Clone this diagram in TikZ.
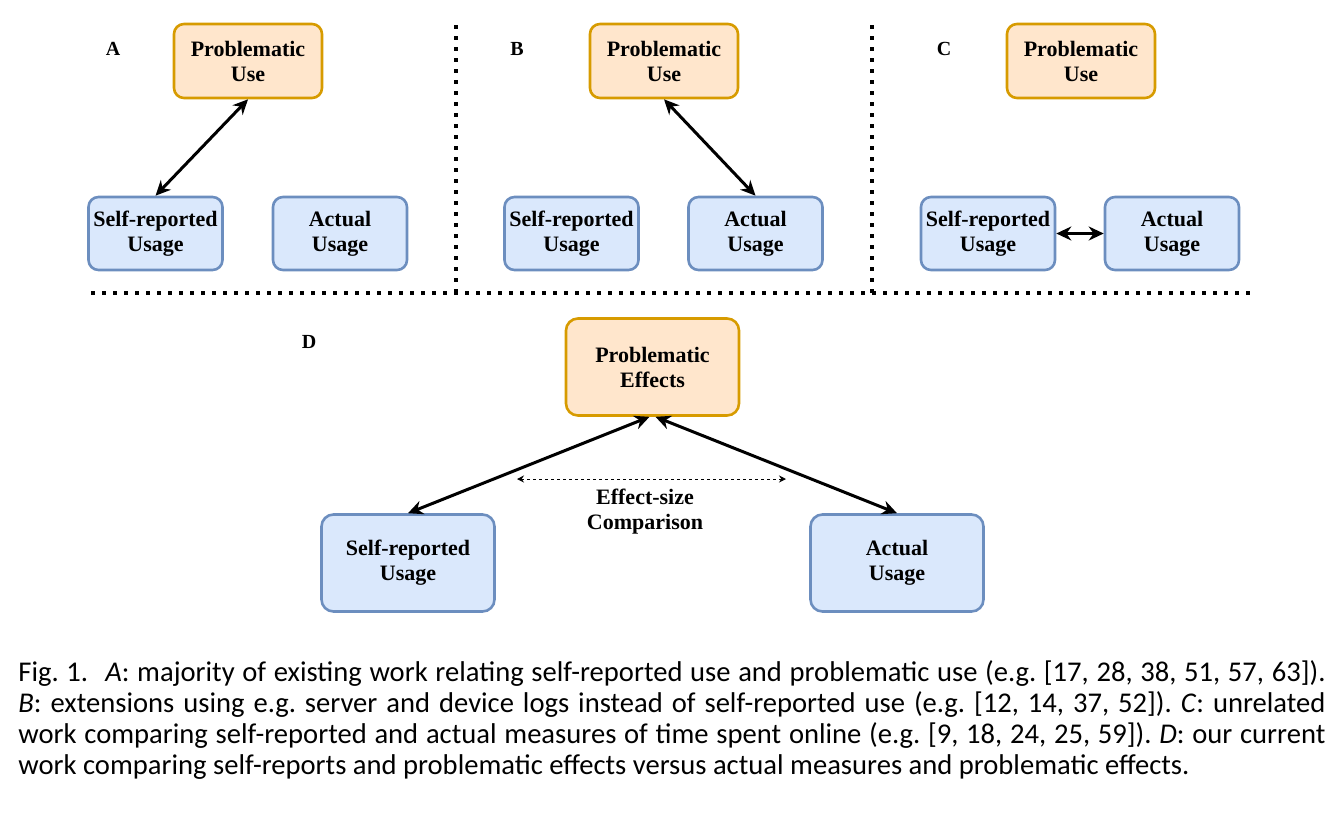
\documentclass[tikz,border=0pt]{standalone}
\usepackage{fontspec}
\setmainfont{Liberation Serif}
\newfontfamily\capfont{Carlito}
\usetikzlibrary{arrows.meta,positioning}

\definecolor{pufill}{HTML}{FFE6CC}
\definecolor{pudraw}{HTML}{D79B00}
\definecolor{usefill}{HTML}{DAE8FC}
\definecolor{usedraw}{HTML}{6C8EBF}

\newcommand{\boxfont}{\fontsize{11}{12.5}\selectfont\bfseries}

\tikzset{
  probbox/.style={draw=pudraw,fill=pufill,line width=1.3pt,rounded corners=5pt,
    minimum width=74pt,minimum height=37pt,inner sep=1pt,align=center,font=\boxfont},
  usebox/.style={draw=usedraw,fill=usefill,line width=1.3pt,rounded corners=5pt,
    minimum width=67pt,minimum height=36.5pt,inner sep=1pt,align=center,font=\boxfont},
  bigbox/.style={minimum width=86.5pt,minimum height=48.5pt,rounded corners=6pt},
  relarrow/.style={line width=1.5pt,
    {Stealth[length=7.5pt,width=7pt]}-{Stealth[length=7.5pt,width=7pt]}},
  cmparrow/.style={line width=0.5pt,dash pattern=on 1.5pt off 1.5pt,
    {Stealth[length=3.5pt,width=3.5pt]}-{Stealth[length=3.5pt,width=3.5pt]}},
  sepline/.style={line width=2pt,dash pattern=on 2pt off 3.5pt},
  panel/.style={font=\fontsize{10}{12}\selectfont\bfseries,inner sep=0pt}
}

\begin{document}
\begin{tikzpicture}[x=0.5pt,y=-0.5pt]
  \useasboundingbox (0,0) rectangle (1342,814);

  % separators
  \draw[sepline] (456,25)--(456,293);
  \draw[sepline] (872,25)--(872,293);
  \draw[sepline] (91,293)--(1250,293);

  % panel A
  \node[panel] (labA) at (113,49) {A};
  \node[probbox] (puA) at (248,61) {Problematic\\Use};
  \node[usebox] (srA) at (155.5,233.5) {Self-reported\\Usage};
  \node[usebox] (acA) at (340,233.5) {Actual\\Usage};
  \draw[relarrow] (srA.north)--(puA.south);

  % panel B
  \node[panel] (labB) at (517,49) {B};
  \node[probbox] (puB) at (664,61) {Problematic\\Use};
  \node[usebox] (srB) at (571.5,233.5) {Self-reported\\Usage};
  \node[usebox] (acB) at (755.5,233.5) {Actual\\Usage};
  \draw[relarrow] (puB.south)--(acB.north);

  % panel C
  \node[panel] (labC) at (944,49) {C};
  \node[probbox] (puC) at (1081,61) {Problematic\\Use};
  \node[usebox] (srC) at (988,233.5) {Self-reported\\Usage};
  \node[usebox] (acC) at (1172,233.5) {Actual\\Usage};
  \draw[relarrow] (srC.east)--(acC.west);

  % panel D
  \node[panel] (labD) at (309,342) {D};
  \node[probbox,bigbox] (peD) at (652.5,367) {Problematic\\Effects};
  \node[usebox,bigbox] (srD) at (408,563) {Self-reported\\Usage};
  \node[usebox,bigbox] (acD) at (897,563) {Actual\\Usage};
  \draw[relarrow] (srD.north)--([xshift=-1.5pt]peD.south);
  \draw[relarrow] (acD.north)--([xshift=1.5pt]peD.south);
  \coordinate (cmpL) at (517,479);
  \coordinate (cmpR) at (786,479);
  \draw[cmparrow] (cmpL)--(cmpR);
  \node[align=center,font=\boxfont,inner sep=0pt] (cmpT) at (645,512) {Effect-size\\Comparison};

  % caption
  \node[anchor=north west,inner sep=0pt,text width=653.5pt,align=justify,
    font=\capfont\fontsize{14.3}{15.5}\selectfont\frenchspacing] (cap) at (18,660.5)
    {Fig.~1.\hspace{0.6em}\textit{A}: majority of existing work relating self-reported use and problematic use (e.g. [17, 28, 38, 51, 57, 63]).\linebreak
     \textit{B}: extensions using e.g. server and device logs instead of self-reported use (e.g. [12, 14, 37, 52]). \textit{C}: unrelated\linebreak
     work comparing self-reported and actual measures of time spent online (e.g. [9, 18, 24, 25, 59]). \textit{D}: our current\linebreak
     work comparing self-reports and problematic effects versus actual measures and problematic effects.};
\end{tikzpicture}
\end{document}
